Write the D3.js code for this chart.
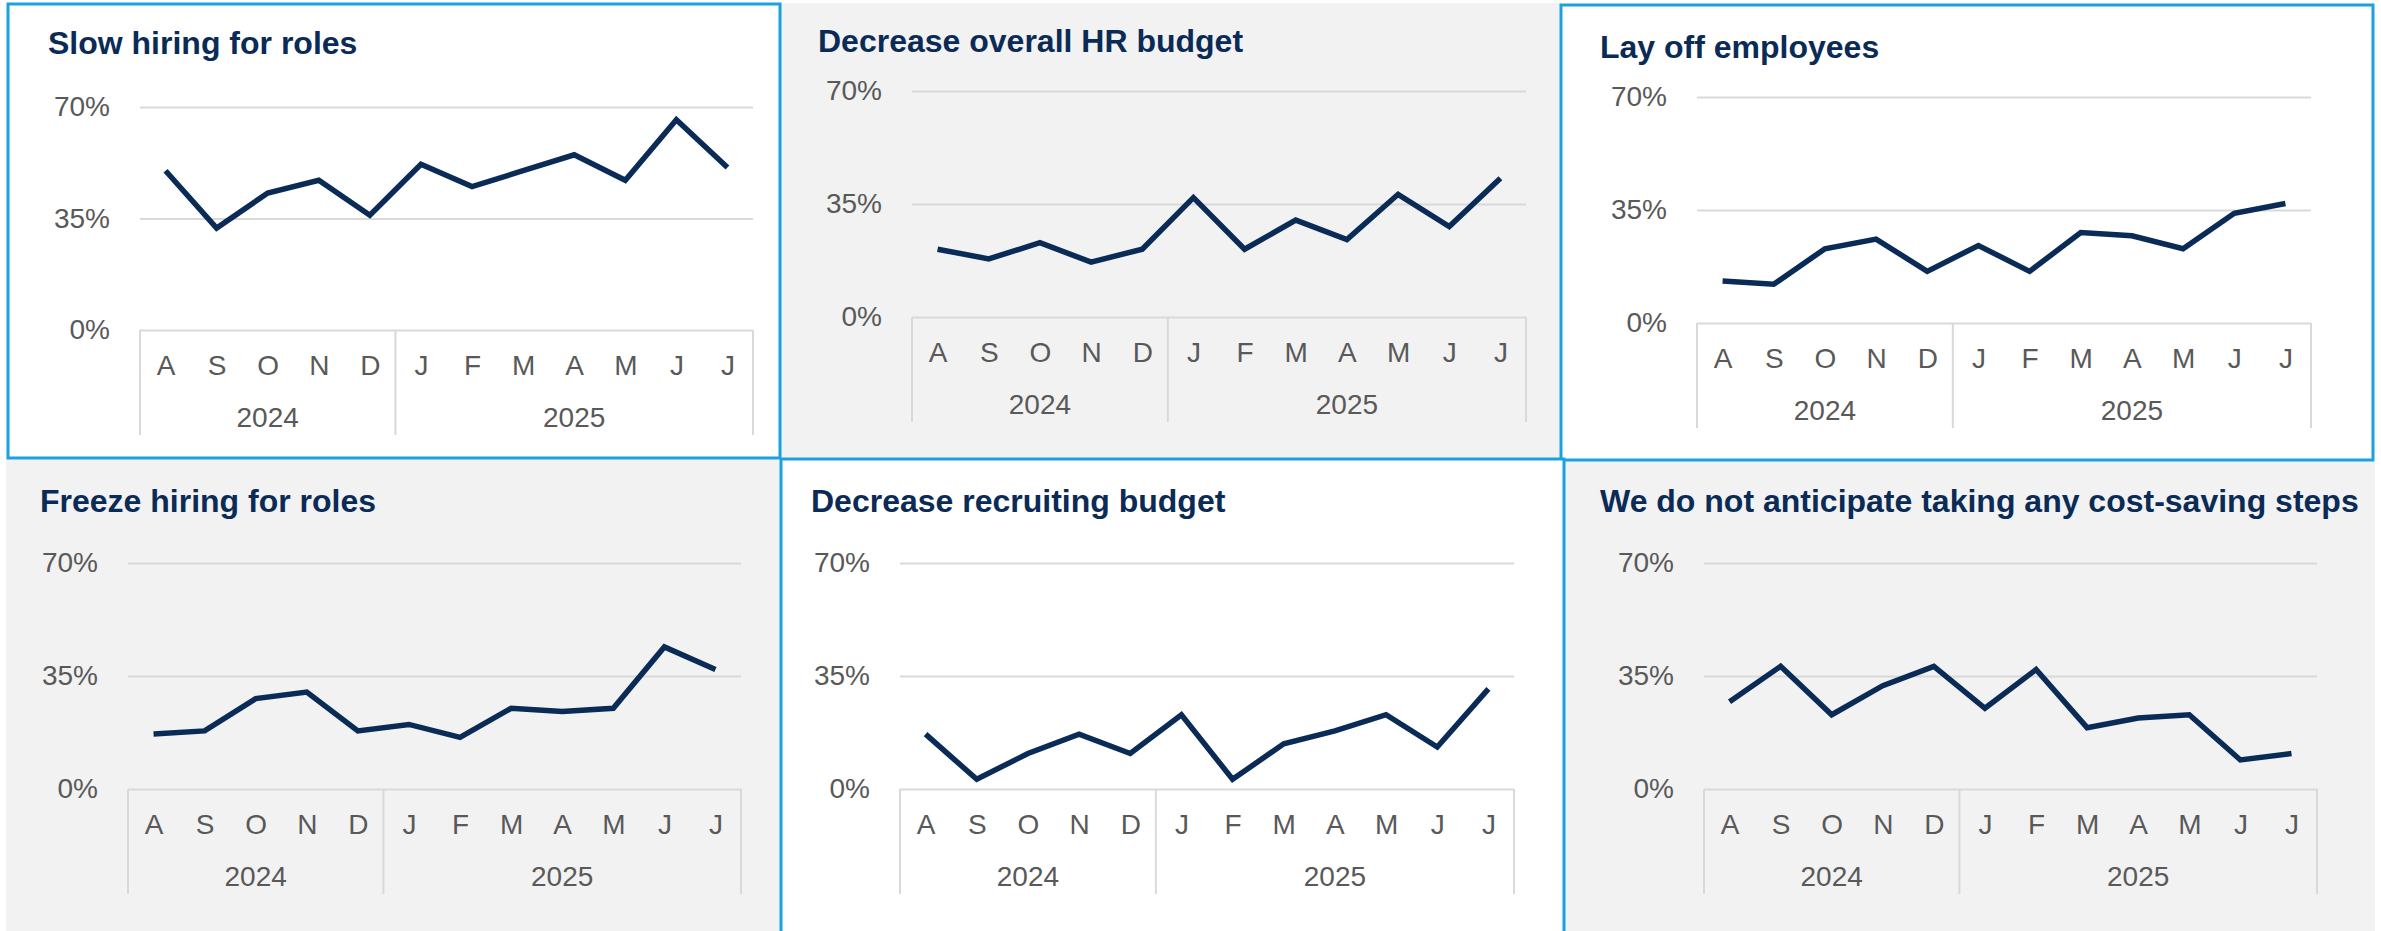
<!DOCTYPE html>
<html>
<head>
<meta charset="utf-8">
<script src="https://cdn.jsdelivr.net/npm/d3@7/dist/d3.min.js"></script>
<style>
    html, body { margin: 0; padding: 0; background: #ffffff; }
    svg { display: block; }
    text { font-family: "Liberation Sans", Arial, sans-serif; }
</style>
</head>
<body>
<script>
// Month letters along the bottom, and the two years they fall in
var months = ["A", "S", "O", "N", "D", "J", "F", "M", "A", "M", "J", "J"];
var years = ["2024", "2025"];
var monthsPerYear = [5, 7];

// y axis ticks, in percent
var yTicks = [0, 35, 70];
var yMax = 70;

// Panel titles, left to right, top to bottom
var titles = [
    "Slow hiring for roles",
    "Decrease overall HR budget",
    "Lay off employees",
    "Freeze hiring for roles",
    "Decrease recruiting budget",
    "We do not anticipate taking any cost-saving steps"
];

// Share of respondents (%) for each month, Aug 2024 - Jul 2025
var slowHiring     = [50, 32, 43, 47, 36, 52, 45, 50, 55, 47, 66, 51];
var decreaseHR     = [21, 18, 23, 17, 21, 37, 21, 30, 24, 38, 28, 43];
var layOff         = [13, 12, 23, 26, 16, 24, 16, 28, 27, 23, 34, 37];
var freezeHiring   = [17, 18, 28, 30, 18, 20, 16, 25, 24, 25, 44, 37];
var decreaseRecr   = [17, 3, 11, 17, 11, 23, 3, 14, 18, 23, 13, 31];
var noCostSaving   = [27, 38, 23, 32, 38, 25, 37, 19, 22, 23, 9, 11];

var series = [slowHiring, decreaseHR, layOff,
              freezeHiring, decreaseRecr, noCostSaving];

// Where each panel sits on the page (plot box = gridline extents)
var layouts = [
    {x: 8, y: 4, w: 772, h: 454, boxed: true,
     x0: 140, x1: 753, top: 107, base: 330, tx: 48, ty: 54},
    {x: 780, y: 3, w: 782, h: 457, boxed: false,
     x0: 912, x1: 1526, top: 91, base: 317, tx: 818, ty: 52},
    {x: 1561, y: 5, w: 812, h: 455, boxed: true,
     x0: 1697, x1: 2311, top: 97, base: 323, tx: 1600, ty: 58},
    {x: 6, y: 458, w: 774, h: 480, boxed: false,
     x0: 128, x1: 741, top: 563, base: 789, tx: 40, ty: 512},
    {x: 781, y: 459, w: 783, h: 480, boxed: true,
     x0: 900, x1: 1514, top: 563, base: 789, tx: 811, ty: 512},
    {x: 1563, y: 460, w: 812, h: 480, boxed: false,
     x0: 1704, x1: 2317, top: 563, base: 789, tx: 1600, ty: 512}
];

var width = 2381, height = 931;
var navy = "#0b2b57", grey = "#595959", rule = "#d9d9d9";
var blue = "#1ba1dd", panelGrey = "#f2f2f2";

var svg = d3.select("body").append("svg")
    .attr("width", width)
    .attr("height", height);

// Grey panels go down first so the blue boxes sit on top of them
var order = [1, 3, 5, 0, 2, 4];
order.forEach(function(i) {
    var L = layouts[i];
    svg.append("rect")
        .attr("x", L.x)
        .attr("y", L.y)
        .attr("width", L.w)
        .attr("height", L.h)
        .attr("fill", L.boxed ? "#ffffff" : panelGrey)
        .attr("stroke", L.boxed ? blue : "none")
        .attr("stroke-width", 3);
});

layouts.forEach(function(L, i) {
    var g = svg.append("g");
    var data = series[i];

    // x is a point per month, centred in twelve equal bands
    var xScale = d3.scalePoint()
        .domain(d3.range(months.length))
        .range([L.x0, L.x1])
        .padding(0.5);
    var yScale = d3.scaleLinear()
        .domain([0, yMax])
        .range([L.base, L.top]);
    var step = xScale.step();

    // Title
    g.append("text")
        .attr("x", L.tx)
        .attr("y", L.ty)
        .attr("fill", navy)
        .attr("font-size", "32px")
        .attr("font-weight", "bold")
        .text(titles[i]);

    // Gridlines and percent labels from the y axis
    var yAxis = d3.axisLeft(yScale)
        .tickValues(yTicks)
        .tickSize(-(L.x1 - L.x0))
        .tickPadding(30)
        .tickFormat(function(d) { return d + "%"; });

    var ya = g.append("g")
        .attr("transform", "translate(" + L.x0 + ",0)")
        .call(yAxis);
    ya.select(".domain").remove();
    ya.selectAll("line")
        .attr("stroke", rule)
        .attr("stroke-width", 2);
    ya.selectAll("text")
        .attr("fill", grey)
        .attr("font-size", "28px")
        .attr("font-family", "Liberation Sans, Arial, sans-serif");

    // Month letters
    var xAxis = d3.axisBottom(xScale)
        .tickSize(0)
        .tickPadding(25)
        .tickFormat(function(d) { return months[d]; });

    var xa = g.append("g")
        .attr("transform", "translate(0," + L.base + ")")
        .call(xAxis);
    xa.select(".domain").remove();
    xa.selectAll("text")
        .attr("fill", grey)
        .attr("font-size", "28px")
        .attr("font-family", "Liberation Sans, Arial, sans-serif");

    // Year boxes: dividers at the start, between years, and at the end
    var edges = [L.x0];
    var count = 0;
    monthsPerYear.forEach(function(n) {
        count += n;
        edges.push(L.x0 + count * step);
    });
    g.selectAll("line.divider")
        .data(edges)
        .enter()
        .append("line")
        .attr("class", "divider")
        .attr("x1", function(d) { return d; })
        .attr("x2", function(d) { return d; })
        .attr("y1", L.base)
        .attr("y2", L.base + 105)
        .attr("stroke", rule)
        .attr("stroke-width", 2);

    g.selectAll("text.year")
        .data(years)
        .enter()
        .append("text")
        .attr("class", "year")
        .attr("x", function(d, k) { return (edges[k] + edges[k + 1]) / 2; })
        .attr("y", L.base + 97)
        .attr("text-anchor", "middle")
        .attr("fill", grey)
        .attr("font-size", "28px")
        .text(function(d) { return d; });

    // The series line
    var line = d3.line()
        .x(function(d, k) { return xScale(k); })
        .y(function(d) { return yScale(d); });

    g.append("path")
        .datum(data)
        .attr("d", line)
        .attr("fill", "none")
        .attr("stroke", navy)
        .attr("stroke-width", 5.5)
        .attr("stroke-linejoin", "miter");
});
</script>
</body>
</html>
